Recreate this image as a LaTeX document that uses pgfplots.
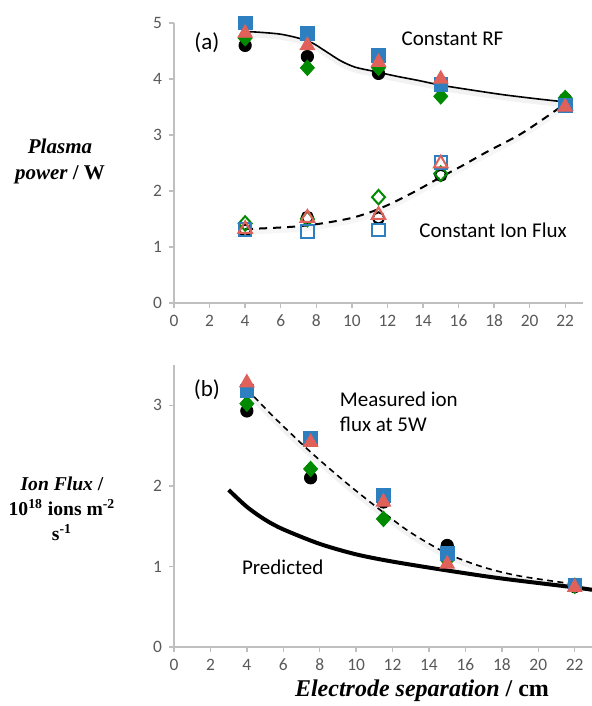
\documentclass[border=0pt]{standalone}
\usepackage{fontspec}
\setmainfont{Carlito}
\newfontfamily\tnr{Liberation Serif}
\usepackage{pgfplots}
\pgfplotsset{compat=1.18}

\definecolor{xblue}{HTML}{2E7FC0}
\definecolor{xred}{HTML}{E0605A}
\definecolor{xgreen}{HTML}{008A00}
\definecolor{axgray}{HTML}{BFBFBF}
\definecolor{txtgray}{HTML}{595959}

\pgfplotsset{
  panel/.style={
    scale only axis, anchor=south west, xmin=0, xmax=23,
    axis x line*=bottom, axis y line*=left,
    axis line style={draw=axgray, line width=0.7pt, -},
    tick align=outside, major tick length=2.5pt,
    tick style={draw=axgray, line width=0.7pt},
    xtick={0,2,...,22},
    tick label style={font=\fontsize{8.7}{10}\selectfont, text=txtgray},
    /pgf/number format/assume math mode=true,
    clip=false,
  },
  bk/.style={only marks, mark=*, mark size=3.1pt, mark options={draw=black, fill=black}},
  gr/.style={only marks, mark=diamond*, mark size=3.9pt, mark options={draw=xgreen, fill=xgreen, xscale=1.2}},
  bl/.style={only marks, mark=square*, mark size=3.4pt, mark options={draw=xblue, fill=xblue}},
  rd/.style={only marks, mark=triangle*, mark size=4.2pt, mark options={draw=xred, fill=xred}},
  bko/.style={only marks, mark=o, mark size=2.8pt, mark options={draw=black, fill=white, line width=1pt}},
  gro/.style={only marks, mark=diamond, mark size=3.6pt, mark options={draw=xgreen, fill=white, line width=1pt, xscale=1.2}},
  blo/.style={only marks, mark=square, mark size=3.1pt, mark options={draw=xblue, fill=white, line width=1pt}},
  rdo/.style={only marks, mark=triangle, mark size=3.9pt, mark options={draw=xred, fill=white, line width=1pt}},
  shade/.style={no marks, smooth, tension=0.5, draw=black, opacity=0.05, line width=2.5pt, yshift=-1.5pt},
  fit/.style={no marks, smooth, tension=0.5, black},
}

\begin{document}
\begin{tikzpicture}
\useasboundingbox (0,0) rectangle (296pt,-353pt);

% (a) plasma power
\begin{axis}[panel, at={(87pt,-151.5pt)}, width=204.5pt, height=140pt,
  ymin=0, ymax=5, ytick={0,1,...,5}]
% constant ion flux (open)
\addplot[bko] coordinates {(4,1.30)(7.5,1.53)(11.5,1.52)(15,2.28)(22,3.60)};
\addplot[gro] coordinates {(4,1.42)(7.5,1.50)(11.5,1.89)(15,2.31)(22,3.60)};
\addplot[blo] coordinates {(4,1.31)(7.5,1.28)(11.5,1.30)(15,2.51)(22,3.55)};
\addplot[rdo] coordinates {(4,1.32)(7.5,1.52)(11.5,1.57)(15,2.49)(22,3.52)};
% constant RF (filled)
\addplot[bk] coordinates {(4,4.60)(7.5,4.40)(11.5,4.10)(15,3.90)(22,3.64)};
\addplot[gr] coordinates {(4,4.73)(7.5,4.20)(11.5,4.20)(15,3.69)(22,3.66)};
\addplot[bl] coordinates {(4,5.00)(7.5,4.81)(11.5,4.42)(15,3.90)(22,3.53)};
\addplot[rd] coordinates {(4,4.82)(7.5,4.60)(11.5,4.30)(15,4.00)(22,3.50)};
% fitted curves
\addplot[shade] coordinates {(4,4.85)(5,4.83)(6,4.80)(7,4.73)(7.8,4.64)(8.6,4.48)(9.4,4.32)(10.2,4.21)(11.2,4.14)(12.5,4.05)(13.8,3.97)(15,3.89)(16.8,3.80)(18.5,3.72)(20.3,3.65)(22,3.59)};
\addplot[fit, line width=0.8pt] coordinates {(4,4.85)(5,4.83)(6,4.80)(7,4.73)(7.8,4.64)(8.6,4.48)(9.4,4.32)(10.2,4.21)(11.2,4.14)(12.5,4.05)(13.8,3.97)(15,3.89)(16.8,3.80)(18.5,3.72)(20.3,3.65)(22,3.59)};
\addplot[shade, opacity=0.035] coordinates {(4,1.32)(5.5,1.34)(7,1.37)(8.5,1.43)(10,1.52)(11.2,1.64)(12.3,1.79)(13.6,2.00)(14.9,2.23)(16.2,2.45)(17.6,2.70)(19.4,3.00)(20.7,3.27)(22,3.56)};
\addplot[fit, line width=1pt, dash pattern=on 4pt off 3pt] coordinates {(4,1.32)(5.5,1.34)(7,1.37)(8.5,1.43)(10,1.52)(11.2,1.64)(12.3,1.79)(13.6,2.00)(14.9,2.23)(16.2,2.45)(17.6,2.70)(19.4,3.00)(20.7,3.27)(22,3.56)};
\node[font=\fontsize{11.5}{13}\selectfont] at (axis cs:1.85,4.64) {(a)};
\node[font=\fontsize{10.5}{12}\selectfont, anchor=west] at (axis cs:12.4,4.72) {Constant RF};
\node[font=\fontsize{10.5}{12}\selectfont, anchor=west] at (axis cs:13.4,1.30) {Constant Ion Flux};
\end{axis}

% (b) ion flux
\begin{axis}[panel, at={(87pt,-323.5pt)}, width=209pt, height=141pt,
  xmax=22.95, ymin=0, ymax=3.5, ytick={0,1,2,3}]
\addplot[bk] coordinates {(4,2.93)(7.5,2.10)(11.5,1.80)(15,1.26)(22,0.75)};
\addplot[gr] coordinates {(4,3.02)(7.5,2.21)(11.5,1.59)(15,1.08)(22,0.76)};
\addplot[bl] coordinates {(4,3.18)(7.5,2.59)(11.5,1.88)(15,1.16)(22,0.77)};
\addplot[rd] coordinates {(4,3.28)(7.5,2.54)(11.5,1.80)(15,1.03)(22,0.74)};
% predicted
\addplot[fit, line width=2pt] coordinates {(3,1.95)(4,1.74)(5,1.58)(6,1.46)(8,1.28)(10,1.15)(12,1.06)(15,0.95)(18,0.85)(22,0.74)(22.95,0.71)};
% measured fit
\addplot[shade] coordinates {(4,3.20)(5.5,2.85)(7.5,2.42)(9.5,2.03)(11.5,1.67)(13,1.42)(15,1.16)(17,0.99)(19,0.88)(22,0.78)};
\addplot[fit, line width=0.8pt, dash pattern=on 3pt off 2.2pt] coordinates {(4,3.20)(5.5,2.85)(7.5,2.42)(9.5,2.03)(11.5,1.67)(13,1.42)(15,1.16)(17,0.99)(19,0.88)(22,0.78)};
\node[font=\fontsize{11.5}{13}\selectfont] at (axis cs:1.81,3.19) {(b)};
\node[font=\fontsize{10.5}{12.5}\selectfont, anchor=west, align=left] at (axis cs:8.72,2.92) {Measured ion\\flux at 5W};
\node[font=\fontsize{10.5}{12}\selectfont, anchor=west] at (axis cs:3.35,0.99) {Predicted};
\end{axis}

% axis titles
\node[font=\tnr\bfseries\fontsize{10.5}{13}\selectfont, align=center] at (30pt,-80.5pt)
  {\textit{Plasma}\\\textit{power} / W};
\node[font=\tnr\bfseries\fontsize{9.8}{12.5}\selectfont, align=center] at (31pt,-254.5pt)
  {\textit{Ion Flux} /\\10\textsuperscript{18} ions m\textsuperscript{-2}\\s\textsuperscript{-1}};
\node[font=\tnr\bfseries\fontsize{12}{14}\selectfont, anchor=base] at (211pt,-348pt)
  {\textit{Electrode separation} / cm};
\end{tikzpicture}
\end{document}
